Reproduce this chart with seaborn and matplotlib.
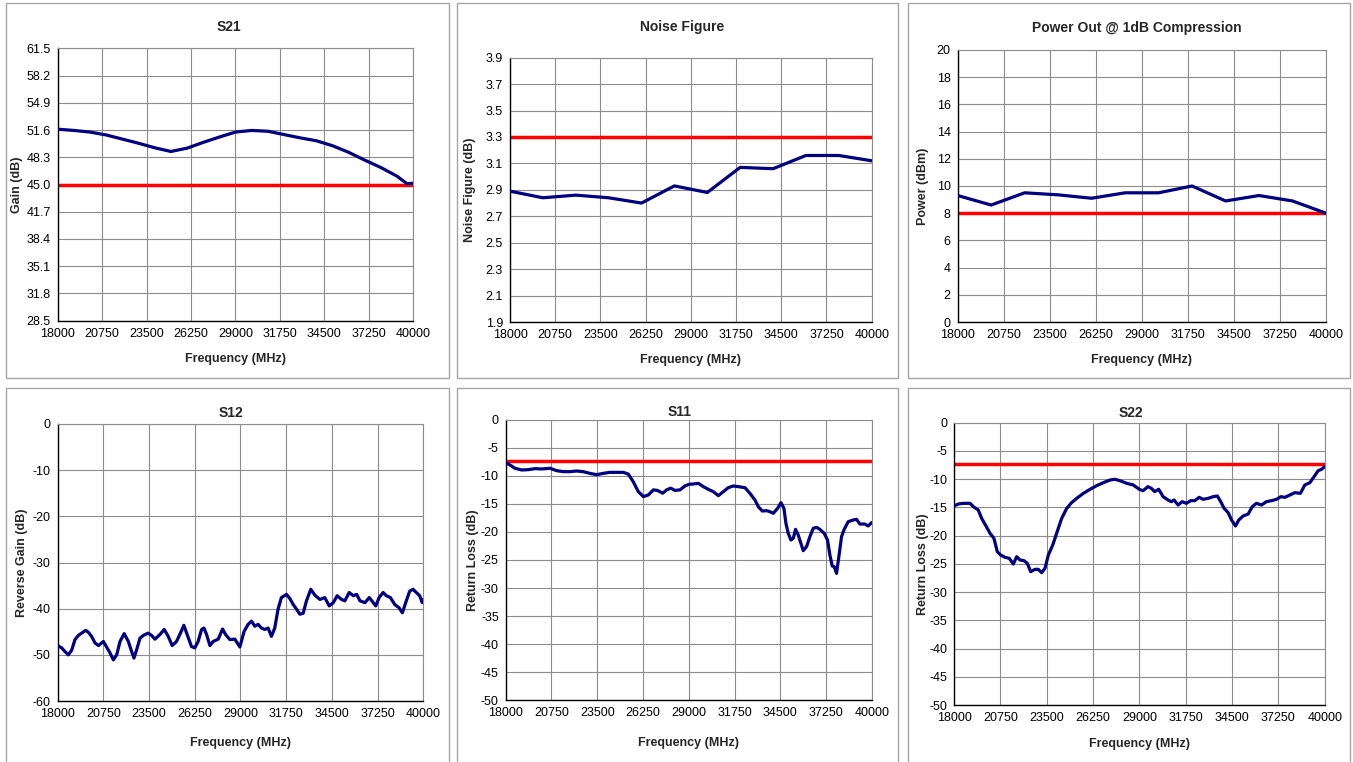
import numpy as np
import seaborn as sns
import matplotlib.pyplot as plt
from matplotlib.patches import Rectangle
from matplotlib.ticker import FormatStrFormatter

# ── Data ────────────────────────────────────────────────────────────────────
freq_ticks = [18000, 20750, 23500, 26250, 29000, 31750, 34500, 37250, 40000]

s21_freq = [18000, 19000, 20000, 21000, 22000, 23000, 24000, 25000, 26000, 27000, 28000,
            29000, 30000, 31000, 32000, 33000, 34000, 35000, 36000, 37000, 38000, 39000,
            39600, 40000]
s21_gain = [51.7, 51.55, 51.35, 51.0, 50.5, 50.0, 49.45, 49.0, 49.4, 50.1, 50.75,
            51.35, 51.55, 51.45, 51.05, 50.65, 50.3, 49.7, 48.9, 47.95, 47.05, 46.0,
            45.1, 45.15]
s21_limit = 45.0

step_freq = [18000, 20000, 22000, 24000, 26000, 28000, 30000, 32000, 34000, 36000, 38000, 40000]
nf_db = [2.89, 2.84, 2.86, 2.84, 2.80, 2.93, 2.88, 3.07, 3.06, 3.16, 3.16, 3.12]
nf_limit = 3.3
p1db_dbm = [9.3, 8.6, 9.5, 9.35, 9.1, 9.5, 9.5, 10.0, 8.9, 9.3, 8.9, 8.0]
p1db_limit = 8.0

s12_freq = [18000, 18240, 18440, 18640, 18840, 19040, 19240, 19440, 19680, 19840, 20040,
            20240, 20450, 20750, 20940, 21150, 21350, 21550, 21750, 22000, 22250, 22450,
            22590, 22750, 22950, 23150, 23450, 23650, 23850, 24150, 24410, 24650, 24890,
            25150, 25410, 25590, 25790, 26050, 26250, 26450, 26660, 26800, 26960, 27160,
            27360, 27660, 27920, 28100, 28360, 28660, 28960, 29220, 29460, 29660, 29860,
            30060, 30260, 30460, 30660, 30860, 31060, 31260, 31460, 31770, 31970, 32170,
            32370, 32570, 32770, 32970, 33230, 33480, 33780, 34070, 34340, 34580, 34820,
            35080, 35280, 35540, 35790, 35990, 36190, 36490, 36750, 36990, 37140, 37340,
            37580, 37780, 38020, 38280, 38540, 38740, 38940, 39180, 39380, 39580, 39780,
            39940, 40000]
s12_db = [-48.0, -48.5, -49.3, -50.0, -49.0, -46.7, -45.8, -45.3, -44.7, -45.1, -46.0,
          -47.4, -48.0, -47.1, -48.3, -49.6, -51.1, -50.0, -47.1, -45.4, -47.1, -49.3,
          -50.7, -48.9, -46.4, -45.8, -45.3, -45.8, -46.6, -45.6, -44.5, -46.0, -48.0,
          -47.1, -45.1, -43.6, -45.6, -48.2, -48.5, -47.1, -44.5, -44.2, -45.6, -48.0,
          -47.1, -46.6, -44.4, -45.6, -46.7, -46.6, -48.3, -44.9, -43.4, -42.7, -43.8,
          -43.4, -44.2, -44.5, -44.2, -46.0, -44.2, -40.1, -37.6, -36.9, -37.8, -39.1,
          -40.1, -41.2, -41.0, -38.3, -35.8, -37.1, -38.0, -37.6, -39.4, -38.7, -37.2,
          -38.0, -38.3, -36.5, -37.2, -36.9, -38.3, -38.7, -37.6, -38.7, -39.4, -37.6,
          -36.5, -37.2, -37.6, -39.1, -39.8, -40.9, -38.7, -36.2, -35.8, -36.5, -37.2,
          -38.7, -38.0]

s11_freq = [18000, 18260, 18560, 18960, 19360, 19760, 20160, 20660, 21060, 21460, 21860,
            22260, 22660, 23060, 23460, 23860, 24260, 24660, 25060, 25360, 25660, 25960,
            26270, 26570, 26870, 27110, 27430, 27670, 27910, 28170, 28470, 28770, 29030,
            29270, 29570, 29870, 30170, 30470, 30770, 31070, 31370, 31670, 31970, 32370,
            32670, 32970, 33170, 33410, 33670, 33870, 34070, 34330, 34530, 34710, 34830,
            34970, 35130, 35270, 35410, 35570, 35730, 35870, 36070, 36270, 36470, 36670,
            36870, 37130, 37330, 37470, 37610, 37730, 37870, 38010, 38170, 38330, 38570,
            38870, 39070, 39270, 39570, 39770, 39970]
s11_db = [-7.66, -8.07, -8.66, -8.96, -8.9, -8.72, -8.78, -8.66, -9.08, -9.26, -9.26,
          -9.14, -9.26, -9.56, -9.8, -9.56, -9.38, -9.38, -9.38, -9.68, -11.05, -12.8,
          -13.7, -13.4, -12.5, -12.6, -13.1, -12.5, -12.2, -12.6, -12.5, -11.8, -11.5,
          -11.46, -11.34, -11.93, -12.41, -12.82, -13.54, -12.82, -12.11, -11.81, -11.93, -12.11,
          -13.12, -14.31, -15.5, -16.27, -16.21, -16.39, -16.68, -15.79, -14.78, -15.79, -18.47,
          -20.25, -21.44, -21.14, -19.54, -20.55, -22.03, -23.34, -22.62, -20.84, -19.36, -19.18,
          -19.54, -20.25, -21.44, -24.11, -26.07, -26.19, -27.38, -24.41, -20.84, -19.54, -18.17,
          -17.87, -17.75, -18.59, -18.59, -18.94, -18.35]

s22_freq = [18000, 18260, 18550, 18950, 19150, 19440, 19640, 19900, 20140, 20370, 20570,
            20770, 21030, 21280, 21520, 21720, 21920, 22160, 22350, 22550, 22810, 23000,
            23200, 23400, 23600, 23860, 24090, 24390, 24690, 24980, 25280, 25680, 26070,
            26470, 26860, 27260, 27550, 27850, 28250, 28640, 29000, 29220, 29510, 29710,
            29910, 30150, 30410, 30700, 30900, 31060, 31300, 31540, 31790, 32050, 32290,
            32550, 32780, 33080, 33380, 33630, 33830, 34030, 34270, 34470, 34710, 34900,
            35160, 35460, 35700, 35950, 36250, 36540, 36840, 37140, 37400, 37640, 37930,
            38230, 38560, 38820, 39120, 39370, 39610, 39810, 40000]
s22_db = [-14.75, -14.4, -14.28, -14.28, -14.87, -15.46, -16.94, -18.3, -19.6, -20.48, -22.84,
          -23.43, -23.85, -24.02, -25.03, -23.73, -24.32, -24.44, -24.91, -26.38, -25.97, -25.97,
          -26.56, -25.79, -23.43, -21.66, -19.6, -16.94, -15.17, -14.16, -13.4, -12.51, -11.8,
          -11.15, -10.62, -10.15, -10.03, -10.27, -10.74, -11.03, -11.8, -12.04, -11.33, -11.62,
          -12.21, -11.8, -13.1, -13.69, -13.99, -13.69, -14.58, -13.99, -14.28, -13.81, -13.81,
          -13.22, -13.57, -13.4, -13.1, -12.98, -13.99, -15.17, -15.93, -17.23, -18.3, -17.23,
          -16.52, -16.17, -14.87, -14.28, -14.58, -13.99, -13.81, -13.57, -13.1, -13.22, -12.81,
          -12.39, -12.51, -11.03, -10.62, -9.56, -8.5, -8.26, -7.79]
rl_limit = -7.36  # 2.5:1 VSWR

# ── Style ───────────────────────────────────────────────────────────────────
sns.set_style("white")
plt.rcParams['font.family'] = ['Liberation Sans', 'DejaVu Sans']

W, H = 1353, 762
fig = plt.figure(figsize=(W / 100, H / 100), dpi=100)

NAVY = "#000080"
RED = "#ff0000"
GRID = "#8c8c8c"


def px_axes(left, top, right, bottom):
    return fig.add_axes([left / W, 1 - bottom / H, (right - left) / W, (bottom - top) / H])


def panel(ax, x, y, limit, yticks, yfmt, ylabel, ylab_x, xlab_y):
    sns.lineplot(x=x, y=y, ax=ax, color=NAVY, linewidth=2.3, estimator=None, sort=False, zorder=3)
    ax.axhline(limit, color=RED, linewidth=2.5, zorder=2)
    ax.set_xlim(18000, 40000)
    ax.set_ylim(yticks[0], yticks[-1])
    ax.set_xticks(freq_ticks)
    ax.set_yticks(yticks)
    ax.yaxis.set_major_formatter(FormatStrFormatter(yfmt))
    ax.grid(True, color=GRID, linewidth=0.8)
    ax.set_axisbelow(True)
    ax.tick_params(axis='both', labelsize=9, length=3, width=0.8, pad=2, direction='out', colors='black')
    for side in ["top", "right"]:
        ax.spines[side].set_color(GRID)
        ax.spines[side].set_linewidth(0.8)
    for side in ["left", "bottom"]:
        ax.spines[side].set_color("black")
        ax.spines[side].set_linewidth(1.0)
    ax.set_xlabel("Frequency (MHz)", fontsize=9, fontweight="bold")
    ax.xaxis.set_label_coords(0.5, xlab_y)
    ax.xaxis.label.set_verticalalignment("center")
    ax.set_ylabel(ylabel, fontsize=9, fontweight="bold")
    ax.yaxis.set_label_coords(ylab_x, 0.5)
    ax.yaxis.label.set_verticalalignment("center")


# panel frames
for (l, t, r, b) in [(6, 3, 449, 378), (457, 3, 898, 378), (908, 3, 1350, 378),
                     (6, 388, 449, 770), (457, 388, 898, 770), (908, 388, 1350, 770)]:
    fig.add_artist(Rectangle((l / W, 1 - b / H), (r - l) / W, (b - t) / H,
                             transform=fig.transFigure, fill=False, edgecolor="#a6a6a6", linewidth=1.0))

# ========== Top row ==========
ax = px_axes(57.7, 48.3, 413.3, 320.7)
panel(ax, s21_freq, s21_gain, s21_limit, [28.5 + 3.3 * i for i in range(11)], "%.1f",
      "Gain (dB)", -0.114, -0.141)

ax = px_axes(510, 57.7, 871.7, 322)
panel(ax, step_freq, nf_db, nf_limit, [1.9 + 0.2 * i for i in range(11)], "%.1f",
      "Noise Figure (dB)", -0.11, -0.144)

ax = px_axes(957.7, 50, 1326, 322)
panel(ax, step_freq, p1db_dbm, p1db_limit, list(range(0, 21, 2)), "%d",
      "Power (dBm)", -0.094, -0.14)

# ========== Bottom row ==========
ax = px_axes(57.7, 424, 423.3, 701)
panel(ax, s12_freq, s12_db, -100, list(range(-60, 1, 10)), "%d",
      "Reverse Gain (dB)", -0.098, -0.152)

ax = px_axes(505.7, 419.7, 872, 700.3)
panel(ax, s11_freq, s11_db, rl_limit, list(range(-50, 1, 5)), "%d",
      "Return Loss (dB)", -0.088, -0.153)

ax = px_axes(954, 422.7, 1324.7, 705)
panel(ax, s22_freq, s22_db, rl_limit, list(range(-50, 1, 5)), "%d",
      "Return Loss (dB)", -0.084, -0.138)

# titles
for (txt, x, y) in [("S21", 229, 27), ("Noise Figure", 682, 27), ("Power Out @ 1dB Compression", 1137, 28),
                    ("S12", 231, 413), ("S11", 680, 412), ("S22", 1131, 413)]:
    fig.text(x / W, 1 - y / H, txt, ha="center", va="center", fontsize=10, fontweight="bold")

plt.savefig("out.png", dpi=100)
plt.close()
